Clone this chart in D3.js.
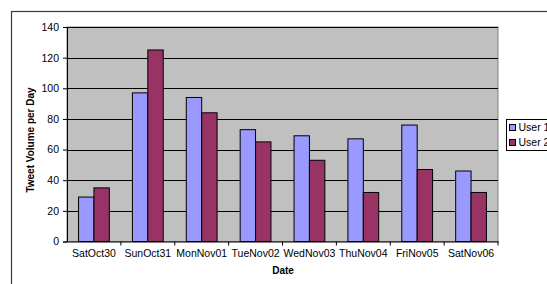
<!DOCTYPE html>
<html>
<head>
<meta charset="utf-8">
<script src="https://cdn.jsdelivr.net/npm/d3@7"></script>
<style>
  body { margin: 0; background: #fff; }
  svg { display: block; font-family: "Liberation Sans", Arial, sans-serif; }
</style>
</head>
<body>
<div id="chart"></div>
<script>
const dates = ["SatOct30", "SunOct31", "MonNov01", "TueNov02", "WedNov03", "ThuNov04", "FriNov05", "SatNov06"];
const seriesNames = ["User 1", "User 2"];
const user1 = [29, 97, 94, 73, 69, 67, 76, 46];
const user2 = [35, 125, 84, 65, 53, 32, 47, 32];
const yTicks = [0, 20, 40, 60, 80, 100, 120, 140];

const width = 547, height = 284;
const plot = { left: 67, right: 498, top: 27, bottom: 241.5 };
const colors = ["#9999ff", "#993366"];

const svg = d3.select("#chart").append("svg")
    .attr("width", width)
    .attr("height", height);

// outer chart border (cut off on right and bottom)
svg.append("rect")
    .attr("x", 11.5).attr("y", 11.5)
    .attr("width", 600).attr("height", 300)
    .attr("fill", "none")
    .attr("stroke", "#3a3a3a")
    .attr("stroke-width", 1.2);

const x = d3.scaleBand().domain(dates).range([plot.left, plot.right]).paddingInner(0).paddingOuter(0);
const xs = d3.scaleBand().domain(seriesNames).range([0, x.bandwidth()]).paddingInner(0).paddingOuter(0.75);
const y = d3.scaleLinear().domain([0, 140]).range([plot.bottom, plot.top]);

// plot background
svg.append("rect")
    .attr("x", plot.left).attr("y", plot.top)
    .attr("width", plot.right - plot.left)
    .attr("height", plot.bottom - plot.top)
    .attr("fill", "#c0c0c0")
    .attr("stroke", "#808080");

// gridlines
svg.append("g")
    .selectAll("line")
    .data(yTicks.filter(d => d > 0))
    .join("line")
    .attr("x1", plot.left).attr("x2", plot.right)
    .attr("y1", d => Math.round(y(d)) + 0.5).attr("y2", d => Math.round(y(d)) + 0.5)
    .attr("stroke", "#000")
    .attr("stroke-width", 1);

// bars
const series = [user1, user2];
svg.append("g")
    .selectAll("g")
    .data(series)
    .join("g")
    .attr("fill", (d, i) => colors[i])
    .selectAll("rect")
    .data((d, i) => d.map((v, j) => ({ v: v, date: dates[j], s: seriesNames[i] })))
    .join("rect")
    .attr("x", d => x(d.date) + xs(d.s))
    .attr("y", d => y(d.v))
    .attr("width", xs.bandwidth())
    .attr("height", d => y(0) - y(d.v))
    .attr("stroke", "#000")
    .attr("stroke-width", 1);

// y axis
const yAxis = svg.append("g")
    .attr("transform", `translate(${plot.left},0)`)
    .call(d3.axisLeft(y).tickValues(yTicks).tickSize(4).tickPadding(4));
yAxis.select(".domain").attr("stroke", "#000");
yAxis.selectAll("text").attr("font-size", 10.5).attr("fill", "#000").attr("font-family", "Liberation Sans, Arial, sans-serif");

// x axis
const xAxis = svg.append("g")
    .attr("transform", `translate(0,${plot.bottom})`)
    .call(d3.axisBottom(x).tickSize(0).tickPadding(8));
xAxis.select(".domain").attr("stroke", "#000");
xAxis.selectAll("text").attr("font-size", 10.5).attr("fill", "#000").attr("font-family", "Liberation Sans, Arial, sans-serif");
xAxis.selectAll(".sep")
    .data(dates)
    .join("line")
    .attr("class", "sep")
    .attr("x1", d => x(d) + x.bandwidth())
    .attr("x2", d => x(d) + x.bandwidth())
    .attr("y1", 0).attr("y2", 4)
    .attr("stroke", "#000");

// axis titles
svg.append("text")
    .attr("transform", "translate(34,140) rotate(-90)")
    .attr("text-anchor", "middle")
    .attr("font-size", 10)
    .attr("font-weight", "bold")
    .text("Tweet Volume per Day");

svg.append("text")
    .attr("x", 283)
    .attr("y", 274)
    .attr("text-anchor", "middle")
    .attr("font-size", 10)
    .attr("font-weight", "bold")
    .text("Date");

// legend
const legend = svg.append("g").attr("transform", "translate(506.5,119.5)");
legend.append("rect")
    .attr("width", 60).attr("height", 31)
    .attr("fill", "#fff")
    .attr("stroke", "#000");
const items = legend.selectAll("g.item")
    .data(seriesNames)
    .join("g")
    .attr("class", "item")
    .attr("transform", (d, i) => `translate(0,${8 + i * 15})`);
items.append("rect")
    .attr("x", 3).attr("y", -3)
    .attr("width", 6).attr("height", 6)
    .attr("fill", (d, i) => colors[i])
    .attr("stroke", "#000");
items.append("text")
    .attr("x", 12).attr("y", 3.5)
    .attr("font-size", 10.5)
    .text(d => d);
</script>
</body>
</html>
